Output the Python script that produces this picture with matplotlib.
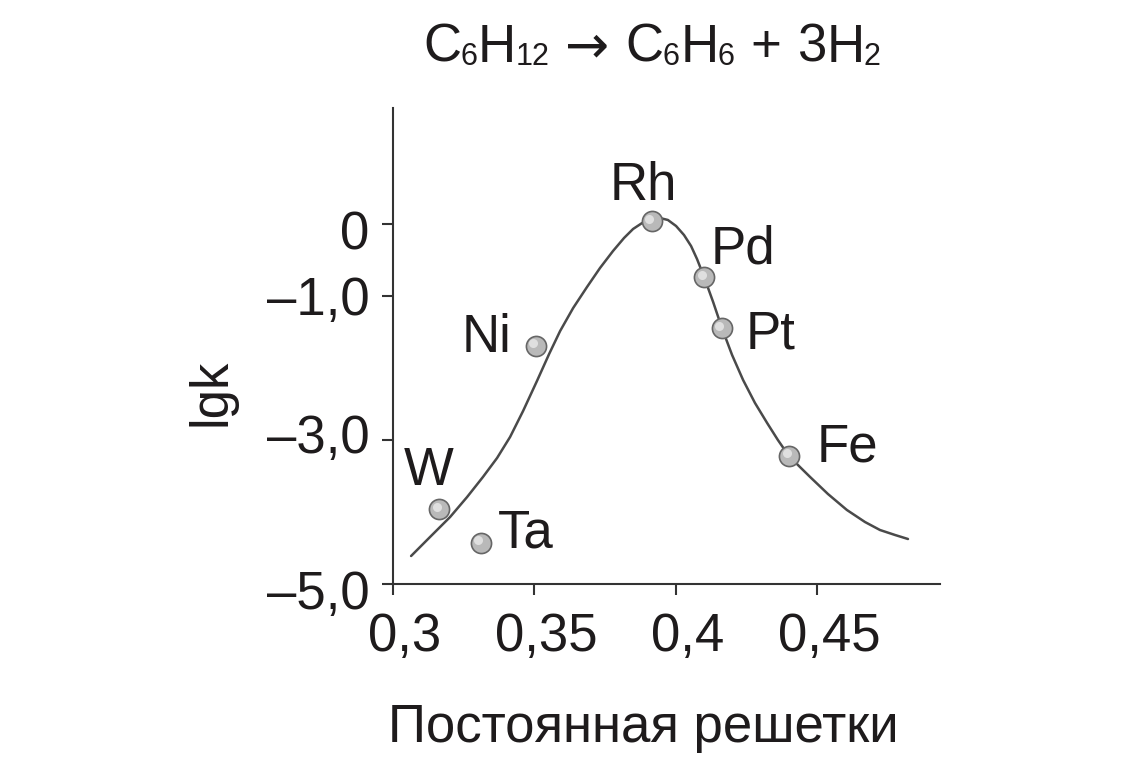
import matplotlib
matplotlib.use("Agg")
import matplotlib.pyplot as plt
from matplotlib.transforms import ScaledTranslation

# ---- data ----
metals = ["Rh", "Pd", "Pt", "Fe", "Ni", "W", "Ta"]
lattice = [0.3915, 0.4101, 0.4162, 0.4401, 0.3505, 0.3163, 0.3310]
lgk = [0.04, -0.74, -1.45, -3.22, -1.69, -3.96, -4.43]

curve_x = [0.3064, 0.3131, 0.3202, 0.3262, 0.3318, 0.3368, 0.3414, 0.3460,
           0.3509, 0.3552, 0.3591, 0.3637, 0.3686, 0.3732, 0.3778, 0.3817,
           0.3849, 0.3881, 0.3916, 0.3944, 0.3972, 0.4001, 0.4029, 0.4054,
           0.4075, 0.4100, 0.4132, 0.4163, 0.4199, 0.4238, 0.4280, 0.4323,
           0.4361, 0.4400, 0.4439, 0.4475, 0.4538, 0.4605, 0.4669, 0.4722,
           0.4775, 0.4821]
curve_y = [-4.611, -4.347, -4.069, -3.792, -3.514, -3.250, -2.958, -2.597,
           -2.181, -1.806, -1.486, -1.167, -0.875, -0.611, -0.375, -0.194,
           -0.069, 0.014, 0.069, 0.083, 0.056, -0.028, -0.153, -0.306,
           -0.486, -0.736, -1.083, -1.444, -1.819, -2.167, -2.486, -2.764,
           -3.000, -3.222, -3.375, -3.514, -3.750, -3.972, -4.139, -4.250,
           -4.319, -4.375]

x_ticks = [0.30, 0.35, 0.40, 0.45]
x_tick_labels = ["0,3", "0,35", "0,4", "0,45"]
y_ticks = [0.0, -1.0, -3.0, -5.0]
y_tick_labels = ["0", "–1,0", "–3,0", "–5,0"]

# label offsets in pixels (dx, dy, ha)
label_offsets = {
    "Rh": (-8, 21, "center"),
    "Pd": (6, 14, "left"),
    "Pt": (24, -20, "left"),
    "Fe": (27, -6, "left"),
    "Ni": (-24, -6, "right"),
    "W": (-10, 24, "center"),
    "Ta": (17, -5, "left"),
}
# vertical nudges of the y tick labels (px, positive = down)
y_label_nudge = [6, 0, -7, 6]

plt.rcParams["font.family"] = ["Liberation Sans", "DejaVu Sans"]
TXT = "#1e1b1c"
W, H = 1133, 761
fig = plt.figure(figsize=(W / 100, H / 100), dpi=100)
ax = fig.add_axes([393 / W, 1 - 584 / H, (940 - 393) / W, (584 - 108) / H])

ax.set_xlim(0.30, 0.30 + (940 - 393) / 2828)
ax.set_ylim(-5.0, (224 - 108) / 72)

ax.plot(curve_x, curve_y, color="#4a4a4a", lw=1.8, solid_capstyle="round",
        solid_joinstyle="round", zorder=2)

ax.plot(lattice, lgk, "o", ms=14.5, mfc="#b9b9b9", mec="#666666", mew=1.2,
        zorder=3, ls="none")
hl = ScaledTranslation(-2.5 / 100, 2.5 / 100, fig.dpi_scale_trans)
ax.plot(lattice, lgk, "o", ms=6.5, mfc="#e4e4e4", mec="none", alpha=0.9,
        zorder=4, ls="none", transform=ax.transData + hl)

for m, xv, yv in zip(metals, lattice, lgk):
    dx, dy, ha = label_offsets[m]
    ax.annotate(m, (xv, yv), xytext=(dx, dy), textcoords="offset pixels",
                ha=ha, va="baseline", fontsize=38, color=TXT, zorder=5)

for s in ["top", "right"]:
    ax.spines[s].set_visible(False)
for s in ["left", "bottom"]:
    ax.spines[s].set_color("#333333")
    ax.spines[s].set_linewidth(1.5)

ax.set_xticks(x_ticks)
ax.set_xticklabels(x_tick_labels)
ax.set_yticks(y_ticks)
ax.set_yticklabels(y_tick_labels)
ax.tick_params(axis="both", direction="out", length=7.8, width=1.5,
               color="#333333", labelsize=38, labelcolor=TXT)
ax.tick_params(axis="x", pad=12)
ax.tick_params(axis="y", pad=9)
shift = ScaledTranslation(12 / 100, 0, fig.dpi_scale_trans)
for lab in ax.get_xticklabels():
    lab.set_transform(lab.get_transform() + shift)
for lab, nd in zip(ax.get_yticklabels(), y_label_nudge):
    lab.set_transform(lab.get_transform() +
                      ScaledTranslation(0, -nd / 100, fig.dpi_scale_trans))

# axis titles
fig.text(211 / W, 1 - 392 / H, "lgk", rotation=90, ha="center",
         va="center", fontsize=38, color=TXT)
fig.text(643 / W, 1 - 742 / H, "Постоянная решетки", ha="center",
         va="baseline", fontsize=38, color=TXT)

# chemical equation title, built piece by piece (subscripts smaller)
base_y = 1 - 62 / H
pieces = [  # text, kind, gap before (px)
    ("C", "m", 0), ("6", "s", -1), ("H", "m", 1), ("12", "s", -1),
    ("→", "a", 16), ("C", "m", 16), ("6", "s", -1), ("H", "m", 1),
    ("6", "s", -1), ("+", "m", 16), ("3", "m", 16), ("H", "m", 0),
    ("2", "s", -1),
]
prev = fig.text(423 / W, base_y, pieces[0][0], fontsize=38, ha="left",
                va="baseline", color=TXT)
for txt, kind, gap in pieces[1:]:
    size = 22 if kind == "s" else 38
    dy = -3 if kind == "s" else 0
    fam = ["DejaVu Sans"] if kind == "a" else ["Liberation Sans", "DejaVu Sans"]
    prev = ax.annotate(txt, xy=(1, base_y), xycoords=(prev, "figure fraction"),
                       xytext=(gap, dy), textcoords="offset pixels",
                       fontsize=size, ha="left", va="baseline", color=TXT,
                       family=fam, annotation_clip=False)

fig.savefig("out.png", dpi=100, facecolor="white")
